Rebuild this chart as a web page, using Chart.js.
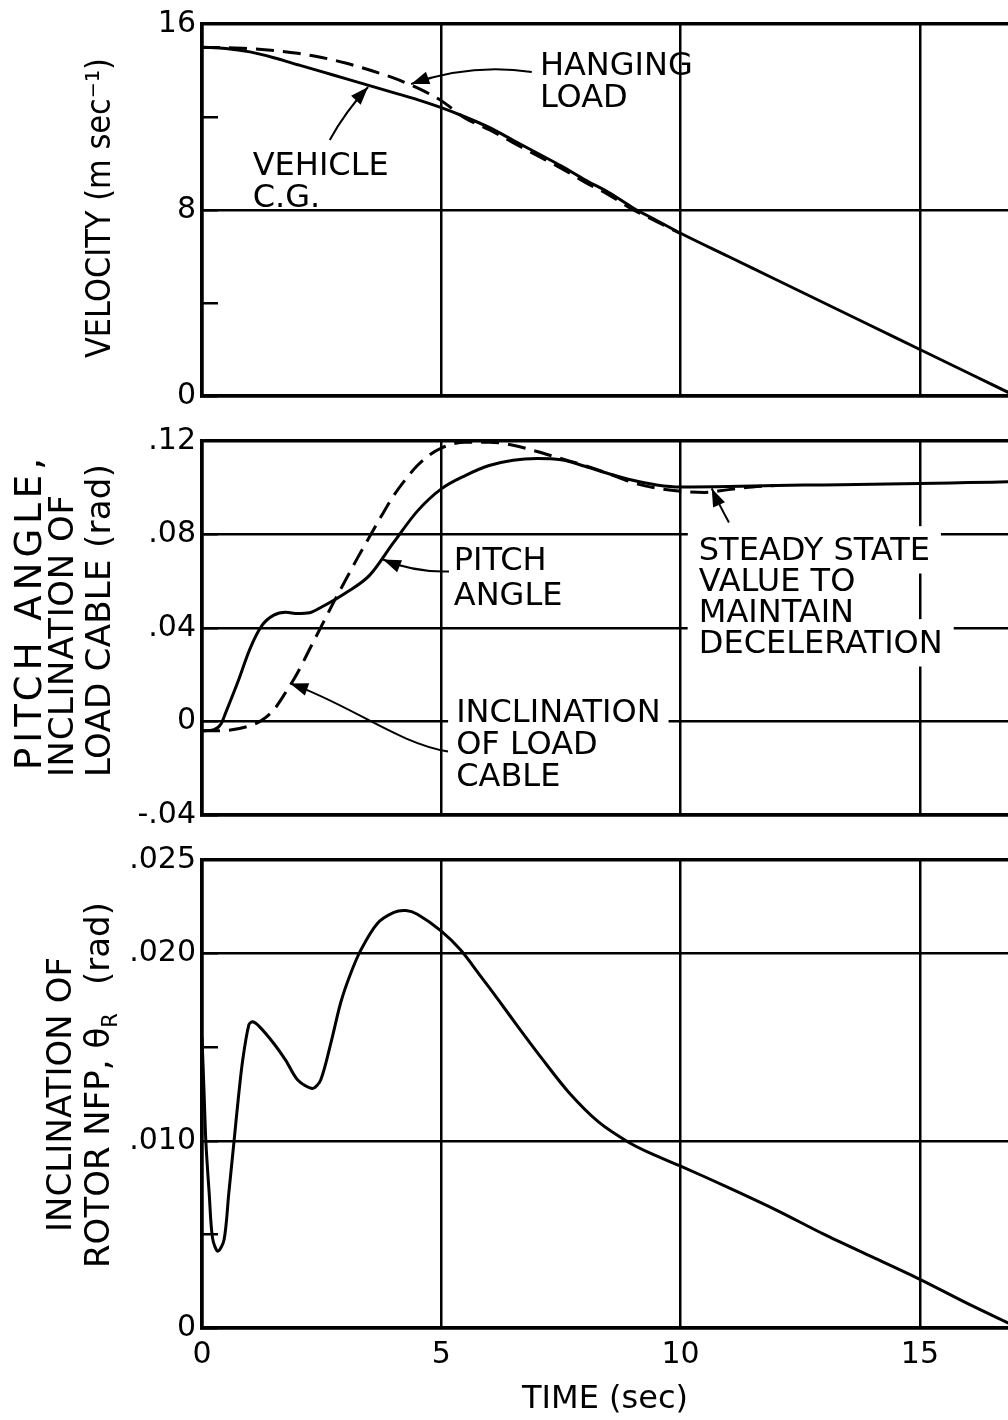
<!DOCTYPE html>
<html><head><meta charset="utf-8">
<script src="https://cdn.jsdelivr.net/npm/chart.js@4.4.1/dist/chart.umd.min.js"></script>
<style>
html,body{margin:0;padding:0;background:#fff;}
#wrap{position:relative;width:1008px;height:1420px;overflow:hidden;background:#fff;}
#wrap canvas{position:absolute;left:0;}
</style></head><body>
<div id="wrap">
<canvas id="c1" width="1008" height="420" style="top:0px"></canvas>
<canvas id="c2" width="1008" height="420" style="top:420px"></canvas>
<canvas id="c3" width="1008" height="580" style="top:840px"></canvas>
</div>
<script>
// ---------- data ----------
const timeTicks = [0, 5, 10, 15];
const timeTickLabels = ['0', '5', '10', '15'];
const timeMax = 16.84;

const velTicks = [0, 4, 8, 12, 16];
const velTickLabels = ['0', '', '8', '', '16'];
const angTicks = [-0.04, 0, 0.04, 0.08, 0.12];
const angTickLabels = ['-.04', '0', '.04', '.08', '.12'];
const rotTicks = [0, 0.005, 0.010, 0.015, 0.020, 0.025];
const rotTickLabels = ['0', '', '.010', '', '.020', '.025'];

// velocity (m/s)
const vehTime = [0, 0.5, 1, 1.5, 2, 2.5, 3, 3.5, 4, 4.5, 5, 5.5, 6, 6.5, 7, 7.5, 8, 8.5, 9, 9.5, 10, 11, 12, 13, 14, 15, 16, 17];
const vehVel  = [15.0, 14.95, 14.8, 14.55, 14.25, 13.95, 13.65, 13.35, 13.05, 12.75, 12.4, 12.0, 11.55, 11.0, 10.45, 9.9, 9.3, 8.75, 8.1, 7.55, 7.0, 6.0, 5.0, 4.0, 3.0, 2.0, 1.0, 0.0];
const loadTime = [0, 0.5, 1, 1.5, 2, 2.5, 3, 3.5, 4, 4.5, 5, 5.5, 6, 6.5, 7, 7.5, 8, 8.5, 9, 9.5, 10];
const loadVel  = [15.0, 14.98, 14.94, 14.86, 14.74, 14.56, 14.32, 14.02, 13.68, 13.25, 12.7, 11.95, 11.45, 10.9, 10.35, 9.8, 9.2, 8.65, 8.02, 7.5, 6.98];

// pitch angle & load cable inclination (rad)
const pitchTime  = [0, 0.25, 0.4, 0.5, 0.75, 1, 1.25, 1.5, 1.75, 2, 2.25, 2.5, 3, 3.5, 4, 4.5, 5, 5.5, 6, 6.5, 7, 7.5, 8, 8.5, 9, 9.5, 10, 11, 12, 13, 14, 15, 16, 17];
const pitchAngle = [-0.004, -0.0035, -0.001, 0.004, 0.017, 0.031, 0.041, 0.0455, 0.0467, 0.0462, 0.0465, 0.049, 0.055, 0.0625, 0.0765, 0.090, 0.0995, 0.1052, 0.1095, 0.1118, 0.1125, 0.112, 0.1092, 0.106, 0.1032, 0.1012, 0.1003, 0.1005, 0.101, 0.1012, 0.1015, 0.1018, 0.1022, 0.1026];
const cableTime  = [0, 0.5, 1, 1.25, 1.5, 1.75, 2, 2.25, 2.5, 2.75, 3, 3.25, 3.5, 3.75, 4, 4.25, 4.5, 4.75, 5, 5.5, 6, 6.5, 7, 7.5, 8, 8.5, 9, 9.5, 10, 10.5, 11, 11.5, 12];
const cableAngle = [-0.004, -0.0038, -0.0018, 0.0005, 0.005, 0.0125, 0.021, 0.031, 0.041, 0.051, 0.0605, 0.070, 0.079, 0.088, 0.0965, 0.1035, 0.1095, 0.114, 0.117, 0.1195, 0.1195, 0.1182, 0.1155, 0.1125, 0.1095, 0.106, 0.1022, 0.0998, 0.0985, 0.098, 0.0992, 0.1003, 0.101];

// rotor NFP inclination (rad)
const rotorTime  = [0, 0.04, 0.08, 0.15, 0.22, 0.33, 0.46, 0.56, 0.67, 0.76, 0.85, 0.98, 1.06, 1.2, 1.5, 1.75, 2.0, 2.31, 2.48, 2.7, 2.9, 3.1, 3.32, 3.66, 4.01, 4.26, 4.5, 5.0, 5.4, 5.82, 6.2, 6.6, 7.1, 7.66, 8.29, 8.93, 9.4, 10, 11, 12, 13, 14, 15, 16, 16.9];
const rotorAngle = [0.0155, 0.0128, 0.0100, 0.0072, 0.0048, 0.0041, 0.0047, 0.0072, 0.0100, 0.0123, 0.0143, 0.0162, 0.01636, 0.0161, 0.0152, 0.0143, 0.01325, 0.0128, 0.01325, 0.0153, 0.0174, 0.0189, 0.0202, 0.0216, 0.0222, 0.0223, 0.0221, 0.0212, 0.0202, 0.0188, 0.0175, 0.0161, 0.0144, 0.0126, 0.0110, 0.0099, 0.0093, 0.00865, 0.0075, 0.0063, 0.0050, 0.0038, 0.0026, 0.0013, 0.0002];

// ---------- helpers ----------
const FONT = "'DejaVu Sans', sans-serif";
Chart.defaults.font.family = FONT;
Chart.defaults.color = '#000';

const pairs = (xs, ys) => xs.map((x, i) => ({x: x, y: ys[i]}));
const P = (chart, q) => [chart.scales.x.getPixelForValue(q[0]), chart.scales.y.getPixelForValue(q[1])];

const notesPlugin = {
  id: 'notes',
  beforeDatasetsDraw(chart, args, opts) {
    const ctx = chart.ctx;
    (opts.labels || []).forEach(l => {
      if (!l.pad) return;
      const p0 = P(chart, l.at);
      ctx.save();
      ctx.font = l.size + 'px ' + FONT;
      ctx.fillStyle = '#fff';
      const cap = l.size * 0.73;
      l.lines.forEach((t, i) => {
        const w = ctx.measureText(t).width;
        const yb = p0[1] + i * l.lh;
        ctx.fillRect(p0[0] - l.pad[0], yb - cap - l.pad[1], w + 2 * l.pad[0], cap + l.pad[1] + l.pad[2]);
      });
      ctx.restore();
    });
  },
  afterDatasetsDraw(chart, args, opts) {
    const ctx = chart.ctx;
    ctx.save();
    ctx.fillStyle = '#000';
    ctx.strokeStyle = '#000';
    (opts.labels || []).forEach(l => {
      const p0 = P(chart, l.at);
      ctx.font = l.size + 'px ' + FONT;
      ctx.textBaseline = 'alphabetic';
      ctx.textAlign = 'left';
      l.lines.forEach((t, i) => ctx.fillText(t, p0[0], p0[1] + i * l.lh));
    });
    (opts.arrows || []).forEach(a => {
      const p = a.path.map(q => P(chart, q));
      ctx.lineWidth = 2;
      ctx.beginPath();
      ctx.moveTo(p[0][0], p[0][1]);
      if (p.length === 3) ctx.quadraticCurveTo(p[1][0], p[1][1], p[2][0], p[2][1]);
      else ctx.bezierCurveTo(p[1][0], p[1][1], p[2][0], p[2][1], p[3][0], p[3][1]);
      ctx.stroke();
      const tip = p[p.length - 1], prev = p[p.length - 2];
      const ang = Math.atan2(tip[1] - prev[1], tip[0] - prev[0]);
      const L = 18, W = 6.5, c = Math.cos(ang), s = Math.sin(ang);
      ctx.beginPath();
      ctx.moveTo(tip[0], tip[1]);
      ctx.lineTo(tip[0] - L * c + W * s, tip[1] - L * s - W * c);
      ctx.lineTo(tip[0] - L * c - W * s, tip[1] - L * s + W * c);
      ctx.closePath();
      ctx.fill();
    });
    ctx.restore();
  }
};

const sideTitlePlugin = {
  id: 'sideTitles',
  afterDraw(chart, args, opts) {
    const ctx = chart.ctx;
    (opts.lines || []).forEach(line => {
      const size = line.size;
      ctx.save();
      ctx.translate(line.x, line.y);
      ctx.rotate(-Math.PI / 2);
      ctx.fillStyle = '#000';
      ctx.textBaseline = 'alphabetic';
      ctx.textAlign = 'left';
      let natural = 0, nChars = 0;
      line.parts.forEach(p => {
        ctx.font = (p.sub ? size * 0.62 : size) + 'px ' + FONT;
        p._w = ctx.measureText(p.t).width;
        natural += p._w;
        nChars += [...p.t].length;
      });
      let sx = 1, ls = 0;
      if (line.len) {
        if (line.len < natural) sx = line.len / natural;
        else ls = (line.len - natural) / Math.max(nChars - 1, 1);
      }
      ctx.scale(sx, 1);
      if ('letterSpacing' in ctx) ctx.letterSpacing = ls + 'px';
      else ls = 0;
      let u = 0;
      const base = size * 0.365;
      line.parts.forEach(p => {
        const fs = p.sub ? size * 0.62 : size;
        ctx.font = fs + 'px ' + FONT;
        ctx.fillText(p.t, u, p.sub ? base + size * 0.22 : base);
        u += p._w + ls * [...p.t].length;
      });
      ctx.restore();
    });
  }
};

function baseOptions(o) {
  const idx = v => o.yTicks.findIndex(t => Math.abs(t - v) < 1e-9);
  const isMinor = v => { const i = idx(v); return i >= 0 && o.yLabels[i] === ''; };
  return {
    responsive: false,
    animation: false,
    events: [],
    layout: { padding: o.padding },
    plugins: {
      legend: { display: false },
      tooltip: { enabled: false },
      title: { display: false },
      notes: o.notes || {},
      sideTitles: o.titles || {}
    },
    scales: {
      x: {
        type: 'linear', min: 0, max: timeMax,
        afterBuildTicks: s => { s.ticks = timeTicks.map(v => ({ value: v })); },
        afterFit: s => { s.height = o.showX ? 92 : 0; s.paddingLeft = 0; s.paddingRight = 0; },
        grid: { color: '#000', lineWidth: 2.5, drawTicks: false },
        border: { display: true, color: '#000', width: 3.5 },
        ticks: {
          display: o.showX, padding: 9, font: { size: 30 }, color: '#000',
          maxRotation: 0, autoSkip: false,
          callback: v => { const i = timeTicks.indexOf(v); return i >= 0 ? timeTickLabels[i] : ''; }
        },
        title: o.showX
          ? { display: true, text: 'TIME (sec)', font: { size: 32 }, color: '#000', padding: { top: 0, bottom: 1 } }
          : { display: false }
      },
      y: {
        type: 'linear', min: o.yMin, max: o.yMax,
        afterBuildTicks: s => { s.ticks = o.yTicks.map(v => ({ value: v })); },
        afterFit: s => { s.width = 202; s.paddingTop = 0; s.paddingBottom = 0; },
        grid: {
          color: c => (c.tick && isMinor(c.tick.value)) ? 'rgba(0,0,0,0)' : '#000',
          lineWidth: c => (c.tick && Math.abs(c.tick.value - o.yMax) < 1e-9) ? 3.5 : 2.5,
          drawTicks: true, tickLength: -16, tickColor: '#000', tickWidth: 2.5
        },
        border: { display: true, color: '#000', width: 3.5 },
        ticks: {
          padding: 22, font: { size: 30 }, color: '#000', autoSkip: false,
          callback: v => { const i = idx(v); return i >= 0 ? o.yLabels[i] : ''; }
        }
      }
    }
  };
}

const solid = (d) => ({ data: d, borderColor: '#000', borderWidth: 3, pointRadius: 0, fill: false, cubicInterpolationMode: 'monotone' });
const dashed = (d) => Object.assign(solid(d), { borderDash: [18, 9] });

// ---------- panel 1: velocity ----------
new Chart(document.getElementById('c1'), {
  type: 'line',
  data: { datasets: [ solid(pairs(vehTime, vehVel)), dashed(pairs(loadTime, loadVel)) ] },
  options: baseOptions({
    yMin: 0, yMax: 16, yTicks: velTicks, yLabels: velTickLabels,
    padding: { top: 24, bottom: 24, left: 0, right: 0 }, showX: false,
    notes: {
      labels: [
        { at: [7.06, 13.81], lines: ['HANGING', 'LOAD'], lh: 32, size: 32 },
        { at: [1.06, 9.5], lines: ['VEHICLE', 'C.G.'], lh: 32, size: 32 }
      ],
      arrows: [
        { path: [[6.89, 13.94], [5.6, 14.32], [4.37, 13.42]] },
        { path: [[2.67, 11.01], [2.99, 12.22], [3.47, 13.29]] }
      ]
    },
    titles: { lines: [ { x: 97.5, y: 358, size: 34, len: 300, parts: [{ t: 'VELOCITY (m sec⁻¹)' }] } ] }
  }),
  plugins: [notesPlugin, sideTitlePlugin]
});

// ---------- panel 2: pitch / cable inclination ----------
new Chart(document.getElementById('c2'), {
  type: 'line',
  data: { datasets: [ solid(pairs(pitchTime, pitchAngle)), dashed(pairs(cableTime, cableAngle)) ] },
  options: baseOptions({
    yMin: -0.04, yMax: 0.12, yTicks: angTicks, yLabels: angTickLabels,
    padding: { top: 21, bottom: 25, left: 0, right: 0 }, showX: false,
    notes: {
      labels: [
        { at: [5.26, 0.065], lines: ['PITCH', 'ANGLE'], lh: 35, size: 32 },
        { at: [5.31, -0.0004], lines: ['INCLINATION', 'OF LOAD', 'CABLE'], lh: 32, size: 32, pad: [8, 10, 12] },
        { at: [10.38, 0.0693], lines: ['STEADY STATE', 'VALUE TO', 'MAINTAIN', 'DECELERATION'], lh: 31, size: 32, pad: [11, 10, 14] }
      ],
      arrows: [
        { path: [[5.16, 0.0642], [4.45, 0.0637], [3.78, 0.0693]] },
        { path: [[5.14, -0.0128], [4.14, -0.0098], [3.09, 0.0073], [1.84, 0.0163]] },
        { path: [[11.01, 0.0851], [10.78, 0.0937], [10.65, 0.0997]] }
      ]
    },
    titles: { lines: [
      { x: 27.5, y: 350, size: 37, len: 312, parts: [{ t: 'PITCH ANGLE,' }] },
      { x: 61, y: 357, size: 34, len: 282, parts: [{ t: 'INCLINATION OF' }] },
      { x: 97.5, y: 357, size: 34, len: 313, parts: [{ t: 'LOAD CABLE (rad)' }] }
    ] }
  }),
  plugins: [notesPlugin, sideTitlePlugin]
});

// ---------- panel 3: rotor NFP inclination ----------
new Chart(document.getElementById('c3'), {
  type: 'line',
  data: { datasets: [ Object.assign(solid(pairs(rotorTime, rotorAngle)), { cubicInterpolationMode: 'default', tension: 0.3 }) ] },
  options: baseOptions({
    yMin: 0, yMax: 0.025, yTicks: rotTicks, yLabels: rotTickLabels,
    padding: { top: 20, bottom: 0, left: 0, right: 0 }, showX: true,
    titles: { lines: [
      { x: 59, y: 392, size: 34, len: 275, parts: [{ t: 'INCLINATION OF' }] },
      { x: 97, y: 428, size: 34, parts: [{ t: 'ROTOR NFP, θ' }, { t: 'R', sub: true }] },
      { x: 97, y: 145, size: 34, parts: [{ t: '(rad)' }] }
    ] }
  }),
  plugins: [sideTitlePlugin]
});
</script>
</body></html>
